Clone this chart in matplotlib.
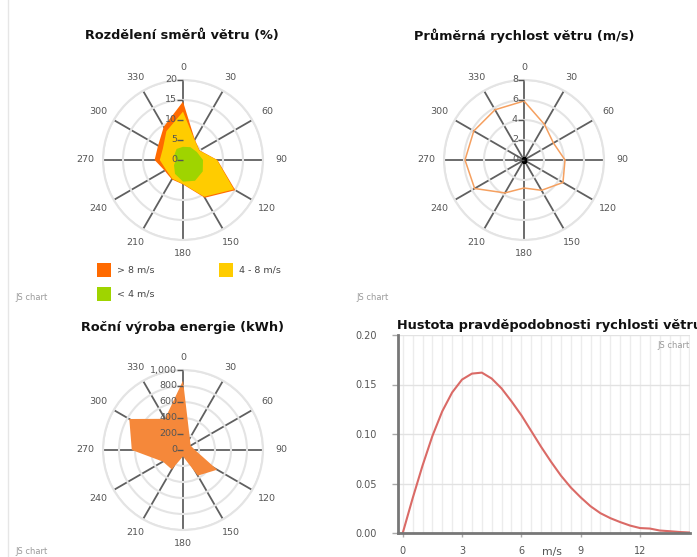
import matplotlib
matplotlib.use('Agg')
import matplotlib.pyplot as plt
import numpy as np
from matplotlib.transforms import offset_copy
from matplotlib.patches import Rectangle
from matplotlib.lines import Line2D

W, H = 697, 557

# ---------------- data ----------------
directions = [0, 30, 60, 90, 120, 150, 180, 210, 240, 270, 300, 330]
# wind direction distribution (%), per speed class
rose_slow = [3.3, 3.7, 4.0, 5.0, 5.7, 6.0, 5.4, 4.0, 2.6, 1.8, 2.5, 3.2]   # < 4 m/s
rose_mid = [8.8, 2.1, 0.7, 3.5, 9.0, 4.6, 0.6, 1.4, 2.3, 4.0, 3.3, 5.1]    # 4 - 8 m/s
rose_fast = [2.5, 0.1, 0.1, 0.1, 0.4, 0.3, 0.1, 0.2, 0.4, 1.3, 1.4, 1.3]   # > 8 m/s
rose_ticks = [0, 5, 10, 15, 20]

# mean wind speed (m/s)
mean_speed = [5.9, 4.1, 3.4, 4.1, 4.5, 3.5, 2.8, 3.8, 5.7, 5.9, 5.8, 5.8]
speed_ticks = [0, 2, 4, 6, 8]

# annual energy production (kWh)
energy = [867, 170, 110, 150, 493, 370, 80, 280, 290, 640, 775, 450]
energy_ticks = [0, 200, 400, 600, 800, 1000]

# wind speed probability density
speed_x = [0, 0.5, 1, 1.5, 2, 2.5, 3, 3.5, 4, 4.5, 5, 5.5, 6, 6.5, 7, 7.5,
           8, 8.5, 9, 9.5, 10, 10.5, 11, 11.5, 12, 12.5, 13, 13.5, 14, 14.5]
density = [0.000, 0.035, 0.068, 0.098, 0.123, 0.142, 0.155, 0.161, 0.162,
           0.156, 0.146, 0.133, 0.119, 0.103, 0.087, 0.072, 0.058, 0.046,
           0.036, 0.027, 0.020, 0.015, 0.011, 0.0075, 0.005, 0.0045, 0.0025,
           0.0018, 0.001, 0.0005]
density_yticks = [0.0, 0.05, 0.10, 0.15, 0.20]
density_xticks = [0, 3, 6, 9, 12]

legend_labels = ['> 8 m/s', '4 - 8 m/s', '< 4 m/s']
C_FAST, C_MID, C_SLOW = '#FF6A00', '#FFCC00', '#9FD400'

TXT = '#555555'
plt.rcParams['font.family'] = ['DejaVu Sans']

fig = plt.figure(figsize=(W / 100, H / 100), dpi=100)
fig.patch.set_facecolor('white')

fig.add_artist(Line2D([8 / W, 8 / W], [0, 1], color='#e6e6e6', lw=1))


def polar_panel(cx, cy, R, rmax, rticks):
    ax = fig.add_axes([(cx - R) / W, 1 - (cy + R) / H, 2 * R / W, 2 * R / H],
                      projection='polar')
    ax.set_theta_zero_location('N')
    ax.set_theta_direction(-1)
    ax.set_ylim(0, rmax)
    ax.set_thetagrids(directions, labels=[''] * len(directions))
    ax.set_rgrids(rticks[1:], labels=[''] * (len(rticks) - 1))
    ax.xaxis.grid(True, color='#606060', lw=1.3)
    ax.yaxis.grid(True, color='#e4e4e4', lw=1.5)
    ax.spines['polar'].set_color('#e4e4e4')
    ax.spines['polar'].set_linewidth(1.5)
    ax.set_facecolor('none')
    ax.set_axisbelow(True)
    ax.tick_params(length=0)
    for d in directions:
        t = np.deg2rad(d)
        s, c = np.sin(t), np.cos(t)
        off = 13 + 5 * abs(s)
        tr = offset_copy(ax.transData, fig=fig, x=off * s, y=off * c,
                         units='dots')
        ax.text(t, rmax, str(d), transform=tr, ha='center', va='center',
                fontsize=6.8, color=TXT, clip_on=False)
    return ax


def radial_labels(ax, rticks, rlabels):
    tr = offset_copy(ax.transData, fig=fig, x=-6, y=0, units='dots')
    for r, lab in zip(rticks, rlabels):
        ax.plot([0], [r], marker=0, ms=4, mew=1, color='#555555',
                clip_on=False, zorder=6)
        ax.text(0, r, lab, transform=tr, ha='right', va='center',
                fontsize=6.8, color=TXT, zorder=7, clip_on=False)


def closed(vals):
    return list(vals) + [vals[0]]


theta = np.deg2rad(closed(directions))

# ---- panel 1: direction distribution ----
ax1 = polar_panel(183, 160, 80, 20, rose_ticks)
cum_slow = np.array(rose_slow)
cum_mid = cum_slow + np.array(rose_mid)
cum_fast = cum_mid + np.array(rose_fast)
ax1.fill(theta, closed(cum_fast), color=C_FAST, lw=0, zorder=2)
ax1.fill(theta, closed(cum_mid), color=C_MID, lw=0, zorder=3)
ax1.fill(theta, closed(cum_slow), color=C_SLOW, lw=0, zorder=4)
radial_labels(ax1, rose_ticks, [str(v) for v in rose_ticks])
fig.text(182 / W, 1 - 36 / H, 'Rozdělení směrů větru (%)', ha='center',
         va='center', fontsize=9.3, fontweight='bold', color='#111111')

# legend
for (x, y), col, lab in zip([(97, 270), (219, 270), (97, 294)],
                            [C_FAST, C_MID, C_SLOW], legend_labels):
    fig.add_artist(Rectangle((x / W, 1 - (y + 7) / H), 14 / W, 14 / H,
                             transform=fig.transFigure, color=col, lw=0))
    fig.text((x + 20) / W, 1 - y / H, lab, ha='left', va='center',
             fontsize=6.8, color='#444444')

# ---- panel 2: mean speed ----
ax2 = polar_panel(524, 160, 80, 8, speed_ticks)
ax2.plot(theta, closed(mean_speed), color='#F5A060', lw=1.1, zorder=3)
ax2.plot([0], [0], marker='s', ms=3.5, color='black', zorder=5)
radial_labels(ax2, speed_ticks, [str(v) for v in speed_ticks])
fig.text(524 / W, 1 - 36 / H, 'Průměrná rychlost větru (m/s)', ha='center',
         va='center', fontsize=9.3, fontweight='bold', color='#111111')

# ---- panel 3: energy ----
ax3 = polar_panel(183, 450, 80, 1000, energy_ticks)
ax3.fill(theta, closed(energy), color='#F5883A', lw=0, zorder=3)
radial_labels(ax3, energy_ticks, ['{:,}'.format(v) for v in energy_ticks])
fig.text(182.5 / W, 1 - 327.5 / H, 'Roční výroba energie (kWh)', ha='center',
         va='center', fontsize=9.3, fontweight='bold', color='#111111')

# ---- panel 4: probability density ----
ax4 = fig.add_axes([398 / W, 1 - 533 / H, (690 - 398) / W, (533 - 335) / H])
ax4.set_xlim(-0.24, 14.53)
ax4.set_ylim(0, 0.2)
ax4.set_xticks(density_xticks)
ax4.set_xticks(np.arange(0, 14.51, 0.5), minor=True)
ax4.set_yticks(density_yticks)
ax4.set_yticklabels(['{:.2f}'.format(v) for v in density_yticks])
ax4.grid(which='both', axis='x', color='#ececec', lw=1)
ax4.grid(which='major', axis='y', color='#e2e2e2', lw=1)
ax4.set_axisbelow(True)
for s in ['top', 'right']:
    ax4.spines[s].set_visible(False)
for s in ['left', 'bottom']:
    ax4.spines[s].set_color('#777777')
    ax4.spines[s].set_linewidth(2)
ax4.tick_params(axis='y', length=4.5, width=1, color='#aaaaaa', pad=11,
                labelsize=7, labelcolor=TXT)
ax4.tick_params(axis='x', which='major', length=3, width=1, color='#aaaaaa',
                pad=6, labelsize=7, labelcolor=TXT)
ax4.tick_params(axis='x', which='minor', length=0)
ax4.plot(speed_x, density, color='#DA6A66', lw=1.5)
fig.text(552 / W, 1 - 552 / H, 'm/s', ha='center', va='center', fontsize=7.8,
         color=TXT)
fig.text(397 / W, 1 - 326 / H, 'Hustota pravděpodobnosti rychlosti větru',
         ha='left', va='center', fontsize=9.3, fontweight='bold',
         color='#111111')

# watermarks
for x, y, ha in [(15, 297, 'left'), (356, 297, 'left'), (15, 551, 'left'),
                 (690, 345, 'right')]:
    fig.text(x / W, 1 - y / H, 'JS chart', ha=ha, va='center', fontsize=6,
             color='#9a9a9a')

fig.savefig('out.png', dpi=100)
